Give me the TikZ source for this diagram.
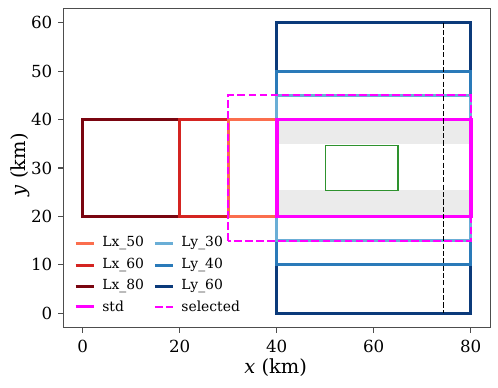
\documentclass[tikz,border=0pt]{standalone}
\usepackage{fontspec}
\setmainfont{DejaVu Serif}
\begin{document}
\begin{tikzpicture}[x=3.492pt,y=3.487pt,
  rect/.style={line width=2.1pt},
  stdline/.style={line width=2.6pt,draw=stdmag},
  selline/.style={line width=1.5pt,draw=stdmag,dash pattern=on 5.55pt off 2.4pt},
  ticklab/.style={font=\fontsize{12pt}{14pt}\selectfont,inner sep=0pt},
  leglab/.style={font=\fontsize{10pt}{12pt}\selectfont,anchor=west,inner sep=0pt},
  axlab/.style={font=\fontsize{14pt}{16pt}\selectfont,inner sep=0pt},
  spine/.style={line width=0.8pt,draw=spinegray},
  tick/.style={line width=0.8pt,draw=spinegray}]
\definecolor{lxa}{HTML}{FB6E4E}
\definecolor{lxb}{HTML}{D42421}
\definecolor{lxc}{HTML}{7A0510}
\definecolor{lya}{HTML}{6AAED6}
\definecolor{lyb}{HTML}{2A7AB9}
\definecolor{lyc}{HTML}{0B3A7A}
\definecolor{stdmag}{HTML}{FF00FF}
\definecolor{band}{HTML}{EBEBEB}
\definecolor{grn}{HTML}{2E922E}
\definecolor{spinegray}{HTML}{4D4D4D}
\useasboundingbox (-17.05,-15.22) rectangle (85.63,64.69);
% bands
\fill[band] (40,35) rectangle (80,40);
\fill[band] (40,20) rectangle (80,25.4);
% Lx rectangles
\draw[rect,lxc] (0,20) rectangle (80,40);
\draw[rect,lxb] (20,20) rectangle (80,40);
\draw[rect,lxa] (30,20) rectangle (80,40);
% Ly rectangles
\draw[rect,lyc] (40,0) rectangle (80,60);
\draw[rect,lyb] (40,10) rectangle (80,50);
\draw[rect,lya] (40,15) rectangle (80,45);
% std & selected
\draw[stdline] (40,20) rectangle (80,40);
\draw[selline] (30,15) rectangle (80,45);
% green box
\draw[line width=1pt,grn] (50,25.3) rectangle (65,34.7);
% dashed vertical line
\coordinate (vt) at (74.4,60);
\coordinate (vb) at (74.4,0);
\draw[line width=1pt,dash pattern=on 3.7pt off 1.6pt] (vt) -- (vb);
% spines
\draw[spine] (-4,-3) rectangle (84,63);
% x ticks
\foreach \v in {0,20,40,60,80}{
  \draw[tick] (\v,-3) -- ++(0,-1.0);
  \node[ticklab,anchor=north] (xt\v) at (\v,-5.5) {\v};
}
% y ticks
\foreach \v in {0,10,20,30,40,50,60}{
  \draw[tick] (-4,\v) -- ++(-1.0,0);
  \node[ticklab,anchor=east] (yt\v) at (-6.2,\v) {\v};
}
\node[axlab] (xl) at (39.8,-11.3) {\textit{x} (km)};
\node[axlab,rotate=90] (yl) at (-12.9,30.7) {\textit{y} (km)};
% legend
\def\ra{14.45}\def\rb{9.95}\def\rc{5.6}\def\rd{1.35}
\draw[rect,lxa] (-1.44,\ra) -- (2.39,\ra); \node[leglab] (l1) at (4.0,\ra) {Lx\_50};
\draw[rect,lxb] (-1.44,\rb) -- (2.39,\rb); \node[leglab] (l2) at (4.0,\rb) {Lx\_60};
\draw[rect,lxc] (-1.44,\rc) -- (2.39,\rc); \node[leglab] (l3) at (4.0,\rc) {Lx\_80};
\draw[stdline,line width=2pt] (-1.44,\rd) -- (2.39,\rd); \node[leglab] (l4) at (4.0,\rd) {std};
\draw[rect,lya] (14.9,\ra) -- (18.7,\ra); \node[leglab] (l5) at (20.3,\ra) {Ly\_30};
\draw[rect,lyb] (14.9,\rb) -- (18.7,\rb); \node[leglab] (l6) at (20.3,\rb) {Ly\_40};
\draw[rect,lyc] (14.9,\rc) -- (18.7,\rc); \node[leglab] (l7) at (20.3,\rc) {Ly\_60};
\draw[selline] (14.9,\rd) -- (18.7,\rd); \node[leglab] (l8) at (20.3,\rd) {selected};
\end{tikzpicture}
\end{document}
